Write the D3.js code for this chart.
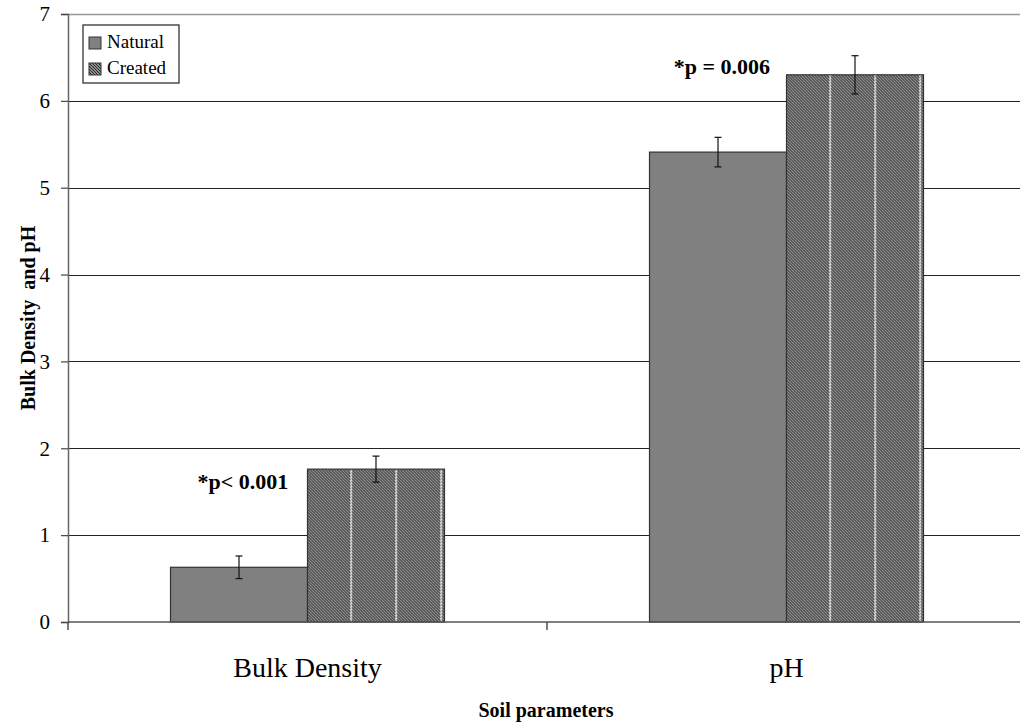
<!DOCTYPE html>
<html>
<head>
<meta charset="utf-8">
<script src="https://cdn.jsdelivr.net/npm/d3@7/dist/d3.min.js"></script>
<style>
  html, body { margin: 0; padding: 0; background: #fff; }
  svg { display: block; }
  text { font-family: "Liberation Serif", "Times New Roman", serif; fill: #000; }
</style>
</head>
<body>
<svg id="chart" width="1020" height="726"></svg>
<script>
// Soil parameter means and standard errors for the two wetland types
const categories = ["Bulk Density", "pH"];
const seriesNames = ["Natural", "Created"];
const naturalValues = [0.63, 5.41];
const createdValues = [1.76, 6.30];
const naturalErrors = [0.13, 0.17];
const createdErrors = [0.15, 0.22];
const pLabels = ["*p< 0.001", "*p = 0.006"];
const yTicks = [0, 1, 2, 3, 4, 5, 6, 7];

(function drawChart() {
  const svg = d3.select("#chart");
  const W = 1020, H = 726;
  const plotLeft = 68, plotTop = 14, plotBottom = 622, plotRight = 1026;

  svg.append("rect").attr("width", W).attr("height", H).attr("fill", "#fff");

  // Fine diagonal hatch used for the "Created" series
  const defs = svg.append("defs");
  const step = 3, tileW = 45;
  const hatch = defs.append("pattern")
    .attr("id", "hatch")
    .attr("patternUnits", "userSpaceOnUse")
    .attr("width", tileW).attr("height", step);
  hatch.append("rect").attr("width", tileW).attr("height", step).attr("fill", "#b8b8b8");
  for (let i = -1; i <= tileW / step; i++) {
    hatch.append("path")
      .attr("d", `M${i * step - 1},-1 l${step + 2},${step + 2}`)
      .attr("stroke", "#222").attr("stroke-width", 1.1);
  }
  hatch.append("rect").attr("x", 0).attr("y", 0).attr("width", 1.2).attr("height", step).attr("fill", "#fff");

  const hatchSmall = defs.append("pattern")
    .attr("id", "hatchSmall")
    .attr("patternUnits", "userSpaceOnUse")
    .attr("width", step).attr("height", step);
  hatchSmall.append("rect").attr("width", step).attr("height", step).attr("fill", "#b8b8b8");
  hatchSmall.append("path").attr("d", `M-1,-1 l${step + 2},${step + 2} M${-step - 1},-1 l${step + 2},${step + 2} M${step - 1},-1 l${step + 2},${step + 2}`)
    .attr("stroke", "#222").attr("stroke-width", 1.1);

  const fills = { Natural: "#808080", Created: "url(#hatch)" };
  const legendFills = { Natural: "#808080", Created: "url(#hatchSmall)" };

  // Scales
  const y = d3.scaleLinear().domain([0, 7]).range([plotBottom, plotTop]);
  const x0 = d3.scaleBand().domain(categories).range([plotLeft, plotRight]).padding(0);
  const groupW = x0.bandwidth() * 0.572;
  const x1 = d3.scaleBand().domain(seriesNames).range([0, groupW]).padding(0);

  // Horizontal gridlines
  svg.append("g").selectAll("line").data(yTicks.filter(d => d > 0)).join("line")
    .attr("x1", plotLeft).attr("x2", W)
    .attr("y1", d => Math.round(y(d)) + 0.5).attr("y2", d => Math.round(y(d)) + 0.5)
    .attr("stroke", d => d === 7 ? "#999" : "#222").attr("stroke-width", d => d === 7 ? 1.5 : 1.2);

  // Bars
  const rows = categories.map((c, i) => ({
    cat: c,
    bars: [
      { s: "Natural", v: naturalValues[i], e: naturalErrors[i] },
      { s: "Created", v: createdValues[i], e: createdErrors[i] }
    ]
  }));

  const groups = svg.append("g").selectAll("g").data(rows).join("g")
    .attr("transform", d => `translate(${x0(d.cat) + (x0.bandwidth() - groupW) / 2},0)`);

  groups.selectAll("rect").data(d => d.bars).join("rect")
    .attr("x", d => x1(d.s))
    .attr("y", d => y(d.v))
    .attr("width", x1.bandwidth())
    .attr("height", d => y(0) - y(d.v))
    .attr("fill", d => fills[d.s])
    .attr("stroke", "#333").attr("stroke-width", 1.2);

  // Error bars
  const eb = groups.selectAll("g.err").data(d => d.bars).join("g").attr("class", "err")
    .attr("transform", d => `translate(${x1(d.s) + x1.bandwidth() / 2},0)`);
  eb.append("line").attr("x1", 0).attr("x2", 0)
    .attr("y1", d => y(d.v + d.e)).attr("y2", d => y(d.v - d.e))
    .attr("stroke", "#111").attr("stroke-width", 1.2);
  eb.selectAll("line.cap").data(d => [d.v + d.e, d.v - d.e]).join("line").attr("class", "cap")
    .attr("x1", -3.5).attr("x2", 3.5)
    .attr("y1", d => y(d)).attr("y2", d => y(d))
    .attr("stroke", "#111").attr("stroke-width", 1.2);

  // Significance labels above each pair
  groups.append("text")
    .attr("x", x1.bandwidth() / 2 + 4)
    .attr("y", (d, i) => y(naturalValues[i]) - 78)
    .attr("text-anchor", "middle")
    .attr("font-weight", "bold")
    .attr("font-size", 22)
    .text((d, i) => pLabels[i]);

  // Y axis
  const yAxis = d3.axisLeft(y).tickValues(yTicks).tickSize(7).tickPadding(11).tickFormat(d3.format("d"));
  const ya = svg.append("g").attr("transform", `translate(${plotLeft},0)`).call(yAxis);
  ya.select(".domain").attr("stroke", "#666").attr("stroke-width", 1.5);
  ya.selectAll(".tick line").attr("stroke", "#444").attr("stroke-width", 1.2);
  ya.selectAll(".tick text").attr("font-size", 21).attr("fill", "#000");

  // X axis line with ticks at band boundaries
  svg.append("line").attr("x1", plotLeft).attr("x2", W).attr("y1", y(0)).attr("y2", y(0))
    .attr("stroke", "#555").attr("stroke-width", 1.6);
  const boundaries = categories.map(c => x0(c)).concat([x0(categories[categories.length - 1]) + x0.bandwidth()]);
  svg.append("g").selectAll("line").data(boundaries).join("line")
    .attr("x1", d => d).attr("x2", d => d)
    .attr("y1", y(0)).attr("y2", y(0) + 8)
    .attr("stroke", "#444").attr("stroke-width", 1.4);

  // Category labels
  svg.append("g").selectAll("text").data(categories).join("text")
    .attr("x", d => x0(d) + x0.bandwidth() / 2)
    .attr("y", 677)
    .attr("text-anchor", "middle")
    .attr("font-size", 28)
    .text(d => d);

  // Axis titles
  svg.append("text")
    .attr("x", 546).attr("y", 717)
    .attr("text-anchor", "middle").attr("font-weight", "bold").attr("font-size", 20)
    .text("Soil parameters");

  svg.append("text")
    .attr("transform", `translate(35,${(plotTop + plotBottom) / 2}) rotate(-90)`)
    .attr("text-anchor", "middle").attr("font-weight", "bold").attr("font-size", 20)
    .attr("xml:space", "preserve")
    .text("Bulk Density  and pH");

  // Legend
  const lg = svg.append("g").attr("transform", "translate(83,25)");
  lg.append("rect").attr("width", 96).attr("height", 58)
    .attr("fill", "#fff").attr("stroke", "#222").attr("stroke-width", 1.2);
  const items = lg.selectAll("g").data(seriesNames).join("g")
    .attr("transform", (d, i) => `translate(6,${12 + i * 26})`);
  items.append("rect").attr("width", 12).attr("height", 12)
    .attr("fill", d => legendFills[d]).attr("stroke", "#333").attr("stroke-width", 1);
  items.append("text").attr("x", 18).attr("y", 11).attr("font-size", 19).text(d => d);
})();
</script>
</body>
</html>
